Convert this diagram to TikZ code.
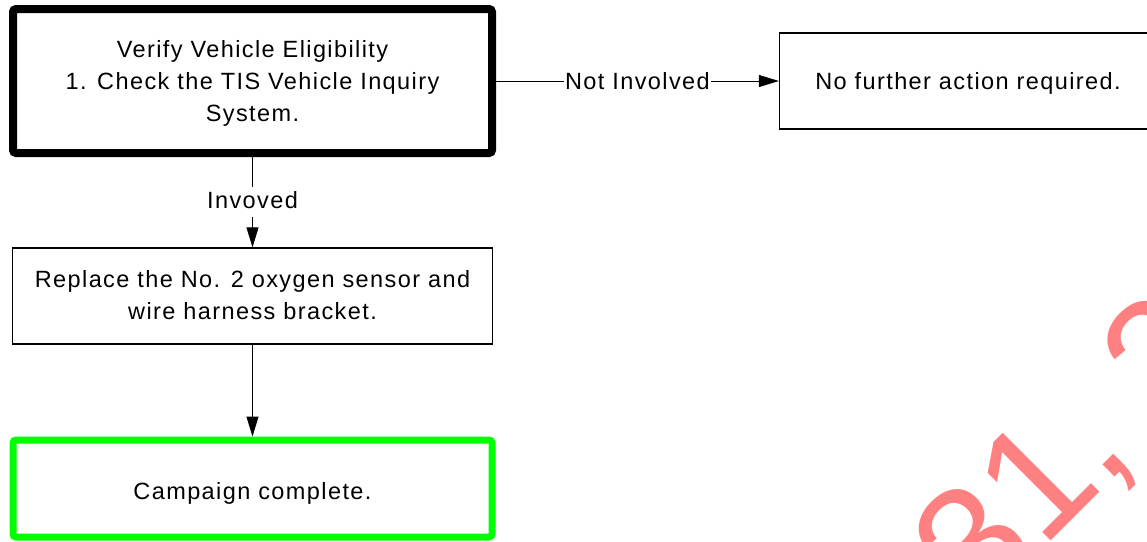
\documentclass[tikz,border=0pt]{standalone}
\usepackage{fontspec}
\setmainfont{Liberation Sans}[LetterSpace=6]
\usetikzlibrary{arrows.meta}
\definecolor{wmred}{RGB}{255,128,128}
\definecolor{okgreen}{RGB}{0,255,0}
\newcommand{\topsp}[1]{\rule{0pt}{#1}}
\tikzset{
  box/.style={draw=black, fill=white, align=center, inner sep=0pt,
    font=\fontsize{23.5}{32}\selectfont, line width=1.3pt},
  lbl/.style={fill=white, inner sep=1pt, yshift=-3pt, font=\fontsize{23.5}{28}\selectfont},
  arr/.style={draw=black, line width=1pt, -{Triangle[length=20pt,width=12pt]}}
}
\begin{document}
\begin{tikzpicture}[x=1pt,y=-1pt]
\useasboundingbox (0,0) rectangle (1147,541);
\clip (0,0) rectangle (1147,541);
\fill[white] (0,0) rectangle (1147,541);
% watermark
\node[text=wmred, rotate=45, anchor=base west, inner sep=0pt,
  font=\addfontfeature{LetterSpace=0}\fontsize{160}{160}\selectfont] (wm) at (979,613) {31, 2};
% boxes
\node[box, line width=8pt, rounded corners=3pt, minimum width=479pt, minimum height=144pt]
  (b1) at (252.5,81) {\topsp{26.4pt}Verify Vehicle Eligibility\\1. Check the TIS Vehicle Inquiry\\System.\strut};
\node[box, minimum width=377pt, minimum height=96pt]
  (b2) at (968,81) {\topsp{26.4pt}No further action required.\strut};
\node[box, minimum width=480pt, minimum height=96pt]
  (b3) at (252.5,296) {\topsp{24.4pt}Replace the No. 2 oxygen sensor and\\wire harness bracket.\strut};
\node[box, draw=okgreen, line width=7pt, rounded corners=3pt, minimum width=479pt, minimum height=97pt]
  (b4) at (252.5,488.5) {\topsp{31.4pt}Campaign complete.\strut};
% connectors
\draw[arr] (b1.east) -- node[lbl]{\strut Not Involved} (b2.west);
\draw[arr] (b1.south) -- node[lbl, pos=0.47]{\strut Invoved} (b3.north);
\draw[arr] (b3.south) -- (b4.north);
\end{tikzpicture}
\end{document}
